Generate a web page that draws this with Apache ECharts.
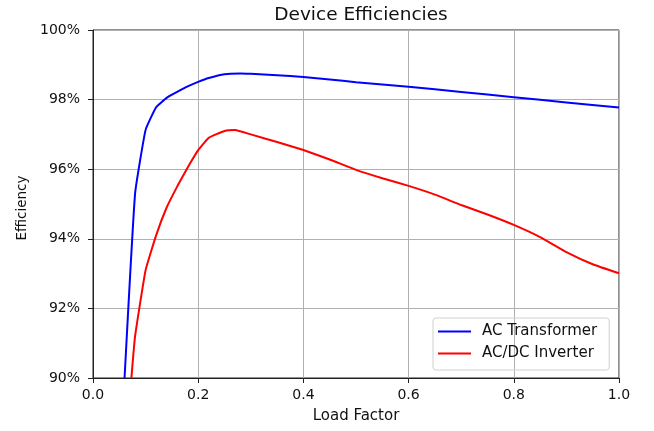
<!DOCTYPE html>
<html><head><meta charset="utf-8">
<script src="https://cdn.jsdelivr.net/npm/echarts@6/dist/echarts.min.js"></script>
<style>html,body{margin:0;padding:0;background:#fff}#c{width:654px;height:431px}</style>
</head><body><div id="c"></div>
<script>
const transformerX = [0.06,0.08,0.10,0.12,0.14,0.16,0.18,0.20,0.22,0.25,0.28,0.30,0.35,0.40,0.45,0.50,0.60,0.70,0.80,0.90,1.00];
const transformerY = [90.0,95.3,97.13,97.78,98.05,98.22,98.38,98.51,98.62,98.73,98.75,98.74,98.70,98.65,98.58,98.50,98.37,98.22,98.07,97.92,97.77];
const inverterX = [0.073,0.08,0.10,0.12,0.14,0.16,0.18,0.20,0.22,0.25,0.27,0.30,0.35,0.40,0.45,0.50,0.55,0.60,0.65,0.70,0.75,0.80,0.85,0.90,0.95,1.00];
const inverterY = [90.0,91.2,93.1,94.1,94.9,95.5,96.05,96.55,96.9,97.1,97.13,97.0,96.78,96.55,96.28,95.98,95.74,95.52,95.27,94.97,94.70,94.40,94.05,93.62,93.27,93.01];
const seriesNames = ['AC Transformer','AC/DC Inverter'];
const font = 'DejaVu Sans';
const zip = (xs, ys) => xs.map((x, i) => [x, ys[i]]);
const chart = echarts.init(document.getElementById('c'));
chart.setOption({
  animation: false,
  title: {text: 'Device Efficiencies', left: 356, top: 1, textAlign: 'center',
    textStyle: {fontFamily: font, fontSize: 18.5, fontWeight: 'normal', color: '#111'}},
  grid: {left: 93, right: 35, top: 30, bottom: 53, show: true, borderColor: '#222', borderWidth: 1},
  legend: {left: 433, top: 318, orient: 'vertical', itemWidth: 33, itemHeight: 2, itemGap: 7,
    padding: [6, 12, 9, 5], borderColor: '#d0d0d0', borderWidth: 1, borderRadius: 3,
    textStyle: {fontFamily: font, fontSize: 15, color: '#111', padding: [0, 0, 0, 6]},
    data: seriesNames.map(n => ({name: n, icon: 'rect'}))},
  xAxis: {type: 'value', min: 0, max: 1, interval: 0.2, name: 'Load Factor', nameLocation: 'middle', nameGap: 31,
    nameTextStyle: {fontFamily: font, fontSize: 15, color: '#111'},
    axisLine: {lineStyle: {color: '#222'}}, axisTick: {show: true, length: 5, lineStyle: {color: '#222'}},
    axisLabel: {fontFamily: font, fontSize: 14, color: '#111', margin: 10, formatter: v => v.toFixed(1)},
    splitLine: {show: true, lineStyle: {color: '#b0b0b0', width: 1}}},
  yAxis: {type: 'value', min: 90, max: 100, interval: 2, name: 'Efficiency', nameLocation: 'middle', nameGap: 60,
    nameTextStyle: {fontFamily: font, fontSize: 13.5, color: '#111', padding: [0, 8, 0, 0]},
    axisLine: {show: true, lineStyle: {color: '#222'}}, axisTick: {show: true, length: 5, lineStyle: {color: '#222'}},
    axisLabel: {fontFamily: font, fontSize: 14, color: '#111', margin: 13, formatter: '{value}%'},
    splitLine: {show: true, lineStyle: {color: '#b0b0b0', width: 1}}},
  series: [
    {name: seriesNames[0], type: 'line', data: zip(transformerX, transformerY), showSymbol: false, smooth: 0.12, clip: true,
      lineStyle: {color: '#0000ff', width: 2}, itemStyle: {color: '#0000ff'}},
    {name: seriesNames[1], type: 'line', data: zip(inverterX, inverterY), showSymbol: false, smooth: 0.12, clip: true,
      lineStyle: {color: '#ff0000', width: 2}, itemStyle: {color: '#ff0000'}}
  ]
});
</script></body></html>
